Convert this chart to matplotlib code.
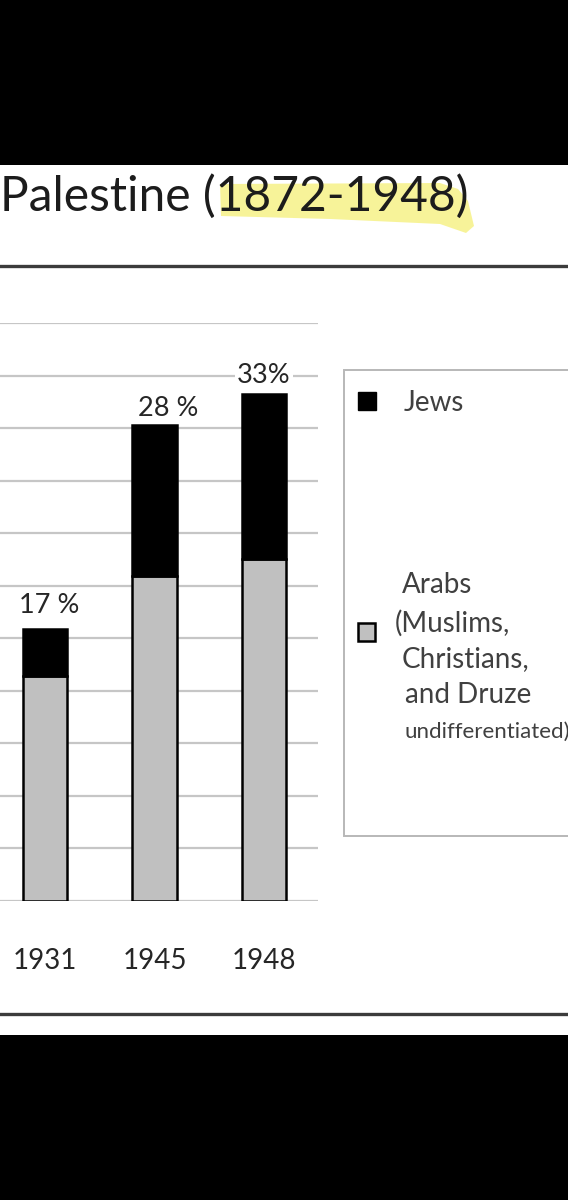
import matplotlib
matplotlib.use("Agg")
import matplotlib.pyplot as plt
from matplotlib.patches import Rectangle, Polygon
from matplotlib.lines import Line2D

plt.rcParams['font.family'] = ['Lato', 'DejaVu Sans']

# ---- data (population, thousands) ----
years = ['1931', '1945', '1948']
arabs = [857, 1238, 1300]
jews = [179, 575, 631]
pct_labels = ['17 %', '28 %', '33%']
series_names = ['Jews', 'Arabs\n(Muslims,\nChristians,\nand Druze\nundifferentiated)']
title = 'Palestine (1872-1948)'

W, H = 568, 1200
fig = plt.figure(figsize=(W / 100, H / 100), dpi=100)
fig.patch.set_facecolor('white')


def fx(px):
    return px / W


def fy(py):
    return 1 - py / H


# black bands (screenshot frame)
fig.patches.append(Rectangle((0, fy(165)), 1, 165 / H, transform=fig.transFigure,
                             facecolor='black', edgecolor='none', zorder=0))
fig.patches.append(Rectangle((0, 0), 1, 165 / H, transform=fig.transFigure,
                             facecolor='black', edgecolor='none', zorder=0))

# highlighter stroke
hl = [(220, 184), (440, 183), (458, 189), (468, 201), (474, 226), (466, 233),
      (440, 224), (330, 219), (221, 216)]
fig.patches.append(Polygon([(fx(x), fy(y)) for x, y in hl], closed=True,
                           transform=fig.transFigure, facecolor='#f6f180',
                           edgecolor='none', alpha=0.8, zorder=1))

fig.text(fx(0), fy(196), title, fontsize=34.5, color='#1c1c1c',
         ha='left', va='center', zorder=3)

# horizontal frame lines
for y in (266, 1014):
    fig.lines.append(Line2D([0, 1], [fy(y), fy(y)], transform=fig.transFigure,
                            color='#3c3c3c', linewidth=2.4, zorder=2))

# ---- axes ----
ax = fig.add_axes([0, fy(901), fx(318), (901 - 323) / H])
x = list(range(len(years)))
bw = 0.41
ax.bar(x, arabs, width=bw, color='#c0c0c0', edgecolor='black', linewidth=1.8, zorder=3)
ax.bar(x, jews, width=bw, bottom=arabs, color='black', edgecolor='black',
       linewidth=1.8, zorder=3)
ax.set_xlim(-0.411, 2.493)
ax.set_ylim(0, 2200)
ax.set_yticks(range(0, 2201, 200))
ax.yaxis.grid(True, color='#c6c6c6', linewidth=1.6, zorder=0)
ax.set_axisbelow(True)
ax.tick_params(axis='y', length=0, labelleft=False)
ax.set_xticks(x)
ax.set_xticklabels(years, fontsize=20, color='#262626')
ax.tick_params(axis='x', length=0, pad=34)
for s in ax.spines.values():
    s.set_visible(False)

# percentage labels
offsets = [(0.04, 17), (0.125, 12), (0.0, 13)]
for i, lab in enumerate(pct_labels):
    tot = arabs[i] + jews[i]
    dx, dy = offsets[i]
    ax.annotate(lab, (i + dx, tot), xytext=(0, dy), textcoords='offset points',
                ha='center', va='center', fontsize=19.5, color='#262626', zorder=5,
                bbox=dict(facecolor='white', edgecolor='none', pad=1.5) if i != 1 else None)

# ---- legend (drawn manually) ----
fig.patches.append(Rectangle((fx(344), fy(836)), fx(260), (836 - 370) / H,
                             transform=fig.transFigure, facecolor='white',
                             edgecolor='#b8b8b8', linewidth=1.4, zorder=2))
fig.patches.append(Rectangle((fx(358), fy(410)), fx(18), 18 / H,
                             transform=fig.transFigure, facecolor='black',
                             edgecolor='black', linewidth=1, zorder=3))
fig.patches.append(Rectangle((fx(358), fy(641)), fx(17), 18 / H,
                             transform=fig.transFigure, facecolor='#c0c0c0',
                             edgecolor='black', linewidth=1.8, zorder=3))
fig.text(fx(404), fy(403), series_names[0], fontsize=20, color='#404040',
         ha='left', va='center', zorder=4)
arab_lines = series_names[1].split('\n')
line_pos = [(402, 585, 20), (395, 623, 20), (402, 659, 20), (405, 695, 20), (404, 732, 16)]
for txt, (px, py, fs) in zip(arab_lines, line_pos):
    fig.text(fx(px), fy(py), txt, fontsize=fs, color='#404040',
             ha='left', va='center', zorder=4)

fig.savefig('out.png', dpi=100)
